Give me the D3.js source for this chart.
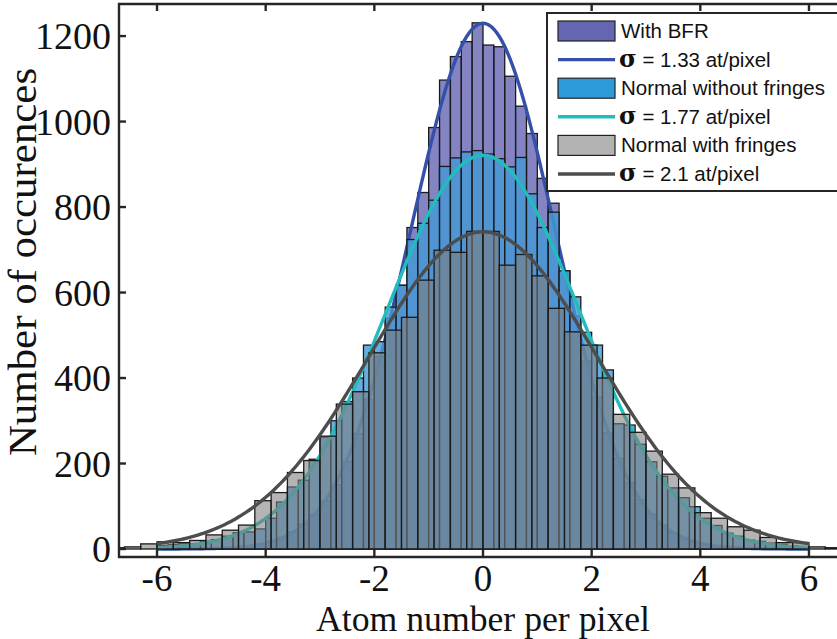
<!DOCTYPE html>
<html><head><meta charset="utf-8">
<script src="https://cdn.jsdelivr.net/npm/d3@7"></script>
<style>body{margin:0;background:#fff}svg{display:block}</style>
</head><body>
<svg id="c" width="837" height="639"></svg>
<script>
// ---------- data ----------
const bfrStart = -6.0, bfrWidth = 0.2;
const bfrCounts = [0,0,0,0,1,1,2,4,7,11,18,27,40,58,80,112,150,205,270,350,450,540,617,752,834,986,1097,1152,1187,1231,
  1179,1175,1106,1036,972,867,809,650,545,440,355,272,212,155,115,82,56,38,27,16,11,6,4,2,1,0,0,0,0,0];
const normalStart = -6.0, normalWidth = 0.2;
const normalCounts = [8,10,14,12,18,22,30,38,40,47,72,110,145,161,210,262,300,345,400,477,485,566,617,724,762,816,895,915,929,932,
  924,913,894,916,831,752,788,651,590,507,477,419,293,290,245,204,170,143,120,99,72,55,37,30,21,18,14,11,8,6];
const fringeStart = -6.9, fringeWidth = 0.3;
const fringeCounts = [3,5,12,17,15,20,33,44,56,113,132,179,207,264,339,368,459,512,542,629,699,694,743,
  743,664,689,639,563,508,477,400,315,273,229,175,143,85,72,52,44,27,15,15,5,3,2];
const fitSigmas = [1.33, 1.77, 2.1];
const fitPeaks = [1230, 921, 742];
const fitRange = [-6, 6];
const legendLabels = ["With BFR", "= 1.33 at/pixel", "Normal without fringes", "= 1.77 at/pixel", "Normal with fringes", "= 2.1 at/pixel"];
const xTicks = [-6,-4,-2,0,2,4,6];
const yTicks = [0,200,400,600,800,1000,1200];
const xTitle = "Atom number per pixel";
const yTitle = "Number of occurences";

// ---------- layout ----------
const L = 119, R = 847, T = 4, B = 557;
const x = d3.scaleLinear().domain([-6.7, 6.7]).range([L, R]);
const y = d3.scaleLinear().domain([-18.7, 1275]).range([B, T]);
const svg = d3.select("#c");

svg.append("defs").append("clipPath").attr("id","clip")
  .append("rect").attr("x",L).attr("y",T).attr("width",R-L).attr("height",B-T);
const plot = svg.append("g").attr("clip-path","url(#clip)");

const styles = [
  {fill:"rgb(80,80,170)", op:0.7, line:"#3550a8"},
  {fill:"rgb(67,152,214)", op:0.8, line:"#22bcbc"},
  {fill:"rgb(125,125,125)", op:0.58, line:"#4d4d4d"}
];
const hists = [
  {start:bfrStart, w:bfrWidth, counts:bfrCounts},
  {start:normalStart, w:normalWidth, counts:normalCounts},
  {start:fringeStart, w:fringeWidth, counts:fringeCounts}
];

hists.forEach((h, k) => {
  const bins = h.counts.map((c, i) => ({x0: h.start + h.w*i, x1: h.start + h.w*(i+1), c}));
  plot.append("g").selectAll("rect").data(bins).join("rect")
    .attr("x", d => x(d.x0)).attr("width", d => x(d.x1) - x(d.x0))
    .attr("y", d => y(d.c)).attr("height", d => y(0) - y(d.c))
    .attr("fill", styles[k].fill).attr("fill-opacity", styles[k].op)
    .attr("stroke", "#1a1a1a").attr("stroke-width", 1.3);
  const pts = d3.range(0, 241).map(j => fitRange[0] + (fitRange[1]-fitRange[0]) * j / 240);
  const line = d3.line().x(v => x(v)).y(v => y(fitPeaks[k] * Math.exp(-v*v/(2*fitSigmas[k]*fitSigmas[k]))));
  plot.append("path").datum(pts).attr("d", line).attr("fill","none")
    .attr("stroke", styles[k].line).attr("stroke-width", 3.4);
});

// ---------- axes ----------
const axCol = "#262626";
svg.append("path").attr("d", `M${R},${T}H${L}V${B}H${R}`).attr("fill","none").attr("stroke",axCol).attr("stroke-width",2.4);
const ax = svg.append("g");
xTicks.forEach(t => {
  ax.append("line").attr("x1",x(t)).attr("x2",x(t)).attr("y1",B).attr("y2",B-7).attr("stroke",axCol).attr("stroke-width",2.4);
  ax.append("line").attr("x1",x(t)).attr("x2",x(t)).attr("y1",T).attr("y2",T+7).attr("stroke",axCol).attr("stroke-width",2.4);
  ax.append("text").attr("x",x(t)).attr("y",591).attr("text-anchor","middle")
    .attr("font-family","Liberation Serif").attr("font-size",37).attr("fill","#111").text(t);
});
yTicks.forEach(t => {
  ax.append("line").attr("x1",L).attr("x2",L+7).attr("y1",y(t)).attr("y2",y(t)).attr("stroke",axCol).attr("stroke-width",2.4);
  ax.append("text").attr("x",111).attr("y",y(t)+13).attr("text-anchor","end")
    .attr("font-family","Liberation Serif").attr("font-size",38).attr("fill","#111").text(t);
});
ax.append("text").attr("transform",`translate(483,631) scale(1.02,1)`).attr("text-anchor","middle")
  .attr("font-family","Liberation Serif").attr("font-size",35).attr("fill","#111").text(xTitle);
ax.append("text").attr("transform",`translate(36,262) rotate(-90) scale(1.1,1)`).attr("text-anchor","middle")
  .attr("font-family","Liberation Serif").attr("font-size",39).attr("fill","#111").text(yTitle);

// ---------- legend ----------
const lg = svg.append("g");
lg.append("rect").attr("x",547).attr("y",13).attr("width",310).attr("height",178)
  .attr("fill","#fff").attr("stroke",axCol).attr("stroke-width",2);
const legendPatch = ["#6466b2", "#2d9bd8", "#b3b3b3"];
legendLabels.forEach((lab, i) => {
  const cy = 31 + i * 28.6;
  const k = Math.floor(i/2);
  if (i % 2 === 0) {
    lg.append("rect").attr("x",558).attr("y",cy-10).attr("width",57).attr("height",20)
      .attr("fill",legendPatch[k]).attr("stroke","#222").attr("stroke-width",1.2);
    lg.append("text").attr("x",621).attr("y",cy+7).attr("font-family","Liberation Sans")
      .attr("font-size",20.5).attr("fill","#111").text(lab);
  } else {
    lg.append("line").attr("x1",558).attr("x2",615).attr("y1",cy).attr("y2",cy)
      .attr("stroke",styles[k].line).attr("stroke-width",3.4);
    const t = lg.append("text").attr("x",619).attr("y",cy+7).attr("font-family","Liberation Sans")
      .attr("font-size",20.5).attr("fill","#111");
    t.append("tspan").attr("font-family","DejaVu Serif").attr("font-weight","bold").attr("font-size",24).text("σ");
    t.append("tspan").text(" " + lab);
  }
});
</script>
</body></html>
